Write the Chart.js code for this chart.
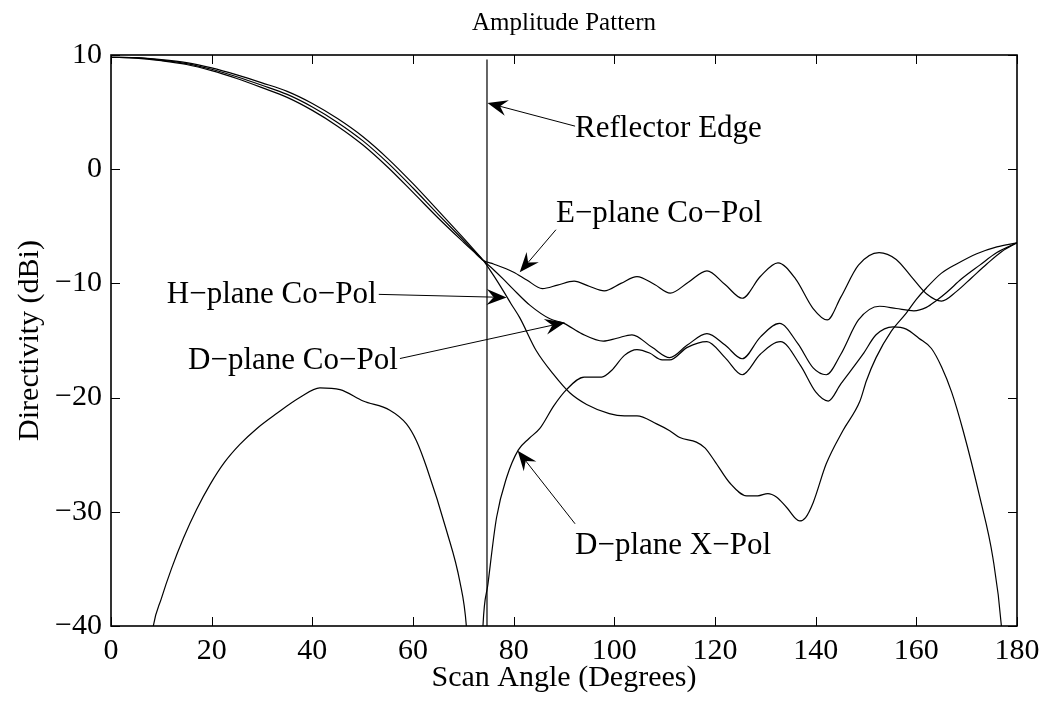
<!DOCTYPE html>
<html>
<head>
<meta charset="utf-8">
<script src="https://cdn.jsdelivr.net/npm/chart.js@4.4.0/dist/chart.umd.min.js"></script>
<style>
html,body{margin:0;padding:0;background:#fff;}
#wrap{width:1054px;height:704px;position:relative;}
</style>
</head>
<body>
<div id="wrap"><canvas id="c" width="1054" height="704"></canvas></div>
<script>
const FONT = '"Liberation Serif", "Times New Roman", serif';

// ---- tick labels ----
const xTicks = [0, 20, 40, 60, 80, 100, 120, 140, 160, 180];
const yTicks = [-40, -30, -20, -10, 0, 10];

// ---- H-plane Co-Pol ----
const hAngles = [0,5,10,15,20,25,30,35,40,45,50,55,60,65,70,72,74,
  76,78,79.5,81.2,84.5,87.8,91.2,94.5,99,102,104.5,108.4,111,113,116.3,118,120,123,126.3,128.5,130.5,132.2,134.2,136.8,138,139.5,142.1,145.4,148.8,150.1,152,155,158,160,162,165,168,172,176,180];
const hValues = [9.8,9.77,9.6,9.33,8.87,8.26,7.56,6.81,5.75,4.43,2.86,0.93,-1.27,-3.63,-6.02,-7.0,-8.0,
  -9.3,-10.7,-11.8,-13.0,-15.9,-17.9,-19.6,-20.6,-21.4,-21.6,-21.6,-22.3,-22.9,-23.5,-23.9,-24.4,-25.6,-27.5,-28.6,-28.6,-28.4,-28.7,-29.6,-30.8,-30.5,-29.2,-25.8,-22.9,-20.3,-18.5,-16.5,-14.2,-12.6,-11.4,-10.4,-9.1,-8.3,-7.4,-6.8,-6.45];

// ---- E-plane Co-Pol ----
const eAngles = [0,5,10,15,20,25,30,35,40,45,50,55,60,65,70,72,74,
  76,79.9,82.6,85.7,88.7,92,95,98,101.3,104.5,108,111.1,114.7,118.4,122,125.4,129,132.5,136,139.5,142.3,145,148.5,152.6,156,159,162,165,168,171,174,177,180];
const eValues = [9.8,9.73,9.5,9.17,8.63,7.94,7.14,6.29,5.15,3.77,2.14,0.17,-2.03,-4.27,-6.38,-7.2,-8.0,
  -8.3,-9.0,-9.7,-10.45,-10.15,-9.8,-10.25,-10.65,-10.0,-9.4,-10.1,-10.85,-9.9,-8.9,-10.1,-11.3,-9.4,-8.2,-9.6,-12.2,-13.2,-11.2,-8.4,-7.3,-7.9,-9.4,-10.9,-11.55,-10.7,-9.5,-8.3,-7.2,-6.45];

// ---- D-plane Co-Pol ----
const dAngles = [0,5,10,15,20,25,30,35,40,45,50,55,60,65,70,72,74,
  76,77.9,79.9,83.2,87.2,90,93.5,97.8,100.5,103.5,107.5,111,114.5,118.4,122,125.4,129,132.8,136.5,139.5,142.1,145,148.5,152.7,156,159.5,162,164,166,169,172.6,176,180];
const dValues = [9.8,9.75,9.55,9.25,8.75,8.1,7.35,6.55,5.45,4.1,2.5,0.55,-1.65,-3.95,-6.2,-7.1,-8.0,
  -8.8,-9.6,-10.5,-11.9,-13.1,-13.5,-14.4,-15.05,-14.8,-14.5,-15.6,-16.5,-15.4,-14.4,-15.4,-16.6,-14.7,-13.5,-15.3,-17.4,-18.0,-16.2,-13.2,-12.0,-12.2,-12.4,-12.1,-11.5,-10.8,-9.6,-8.4,-7.3,-6.45];

// ---- D-plane X-Pol ----
const xpAngles = [6.5,8.4,10,12,14.4,17,19.7,22.5,25.6,29,32.9,37.5,41.5,45.5,50.1,55.4,58.7,60.7,62.7,66.7,69.3,70.6,71.6,72.6,73.2,73.9,74.9,76.6,78.6,80.9,83,85.2,88,90.5,94,97.5,99.5,102,104.5,107,109.5,111,114.5,118.4,122,125.4,129,133,137,140,142.5,145,149.4,152,155.4,158,160.5,163,165,167,169.3,172.6,175.2,176.9,178];
const xpValues = [-47,-40,-37.6,-35,-32.3,-29.8,-27.6,-25.7,-24.1,-22.7,-21.4,-20.0,-19.15,-19.3,-20.3,-21.1,-22.3,-23.8,-26.1,-31.7,-36.1,-40,-48,-60,-50,-40,-36.3,-30.5,-27.0,-24.6,-23.6,-22.7,-20.7,-19.3,-18.2,-18.2,-17.6,-16.3,-15.8,-16.1,-16.7,-16.7,-15.6,-15.1,-16.5,-18.0,-16.2,-15.1,-17.2,-19.5,-20.3,-18.8,-16.2,-14.5,-13.8,-14.0,-14.8,-15.7,-17.3,-19.5,-22.9,-28.7,-34,-40,-48];

// ---- Reflector edge marker ----
const edgeAngles = [74.7, 74.7];
const edgeValues = [-40, 9.6];

// ---- annotations (text anchor + arrow, in data units) ----
const notes = [
  {text:'Reflector Edge',  x:92.2, y:2.8,    from:[92.2,3.77],  to:[74.8,5.8]},
  {text:'E\u2212plane Co\u2212Pol', x:88.4, y:-4.65, from:[88.4,-5.3], to:[81.2,-9.03]},
  {text:'H\u2212plane Co\u2212Pol', x:11.1, y:-11.75, from:[53.2,-10.96], to:[78.6,-11.23]},
  {text:'D\u2212plane Co\u2212Pol', x:15.3, y:-17.46, from:[57.4,-16.58], to:[90.2,-13.42]},
  {text:'D\u2212plane X\u2212Pol',  x:92.2, y:-33.7,  from:[92.2,-31.05], to:[80.8,-24.65]}
];

function pts(a, v) { return a.map((x, i) => ({x: x, y: v[i]})); }
function ds(a, v) {
  return {data: pts(a, v), borderColor:'#000', borderWidth:1.2, pointRadius:0,
          fill:false, cubicInterpolationMode:'monotone'};
}
function minus(v) { return String(v).replace('-', '\u2212'); }

function drawArrow(ctx, x1, y1, x2, y2) {
  const ang = Math.atan2(y2 - y1, x2 - x1), c = Math.cos(ang), s = Math.sin(ang);
  const L = 20, W = 8, N = 13;
  ctx.beginPath(); ctx.moveTo(x1, y1); ctx.lineTo(x2 - N * c, y2 - N * s); ctx.stroke();
  ctx.beginPath();
  ctx.moveTo(x2, y2);
  ctx.lineTo(x2 - L * c - W * s, y2 - L * s + W * c);
  ctx.lineTo(x2 - N * c, y2 - N * s);
  ctx.lineTo(x2 - L * c + W * s, y2 - L * s - W * c);
  ctx.closePath(); ctx.fill();
}

const decor = {
  id: 'decor',
  afterDraw(chart) {
    const ctx = chart.ctx, a = chart.chartArea;
    const xs = chart.scales.x, ys = chart.scales.y;
    ctx.save();
    ctx.strokeStyle = '#000'; ctx.fillStyle = '#000';
    // inward ticks on all sides
    ctx.lineWidth = 1;
    const T = 9;
    ctx.beginPath();
    xTicks.forEach(v => {
      const p = Math.round(xs.getPixelForValue(v)) + 0.5;
      ctx.moveTo(p, a.bottom); ctx.lineTo(p, a.bottom - T);
      ctx.moveTo(p, a.top); ctx.lineTo(p, a.top + T);
    });
    yTicks.forEach(v => {
      const p = Math.round(ys.getPixelForValue(v)) + 0.5;
      ctx.moveTo(a.left, p); ctx.lineTo(a.left + T, p);
      ctx.moveTo(a.right, p); ctx.lineTo(a.right - T, p);
    });
    ctx.stroke();
    // box
    ctx.lineWidth = 1.6;
    ctx.strokeRect(a.left, a.top, a.right - a.left, a.bottom - a.top);
    // title
    ctx.font = '25px ' + FONT;
    ctx.textAlign = 'center'; ctx.textBaseline = 'alphabetic';
    ctx.fillText('Amplitude Pattern', (a.left + a.right) / 2, 30);
    // annotations
    ctx.font = '31px ' + FONT;
    ctx.textAlign = 'left';
    ctx.lineWidth = 1;
    notes.forEach(n => {
      ctx.fillText(n.text, xs.getPixelForValue(n.x), ys.getPixelForValue(n.y));
      drawArrow(ctx, xs.getPixelForValue(n.from[0]), ys.getPixelForValue(n.from[1]),
                     xs.getPixelForValue(n.to[0]), ys.getPixelForValue(n.to[1]));
    });
    ctx.restore();
  }
};

new Chart(document.getElementById('c'), {
  type: 'line',
  data: {
    datasets: [
      ds(hAngles, hValues),
      ds(eAngles, eValues),
      ds(dAngles, dValues),
      ds(xpAngles, xpValues),
      Object.assign(ds(edgeAngles, edgeValues), {cubicInterpolationMode:'default', borderWidth:1.2})
    ]
  },
  options: {
    responsive: false,
    animation: false,
    devicePixelRatio: 1,
    layout: {padding: {left: 0, right: 37, top: 55, bottom: 0}},
    plugins: {legend: {display: false}, tooltip: {enabled: false}, title: {display: false}},
    scales: {
      x: {
        type: 'linear', min: 0, max: 180,
        afterBuildTicks: s => { s.ticks = xTicks.map(v => ({value: v})); },
        ticks: {color: '#000', font: {family: FONT, size: 30}, padding: 7, maxRotation: 0, autoSkip: false,
                callback: v => minus(v)},
        grid: {display: false, drawTicks: false},
        border: {display: false},
        title: {display: true, text: 'Scan Angle (Degrees)', color: '#000',
                font: {family: FONT, size: 30}, padding: {top: 0, bottom: 8}},
        afterFit: s => { s.height = 78; }
      },
      y: {
        type: 'linear', min: -40, max: 10,
        afterBuildTicks: s => { s.ticks = yTicks.map(v => ({value: v})); },
        ticks: {color: '#000', font: {family: FONT, size: 30}, padding: 9, autoSkip: false,
                callback: v => minus(v)},
        grid: {display: false, drawTicks: false},
        border: {display: false},
        title: {display: true, text: 'Directivity (dBi)', color: '#000',
                font: {family: FONT, size: 30}, padding: {top: 12, bottom: 0}},
        afterFit: s => { s.width = 111; }
      }
    }
  },
  plugins: [decor]
});
</script>
</body>
</html>
